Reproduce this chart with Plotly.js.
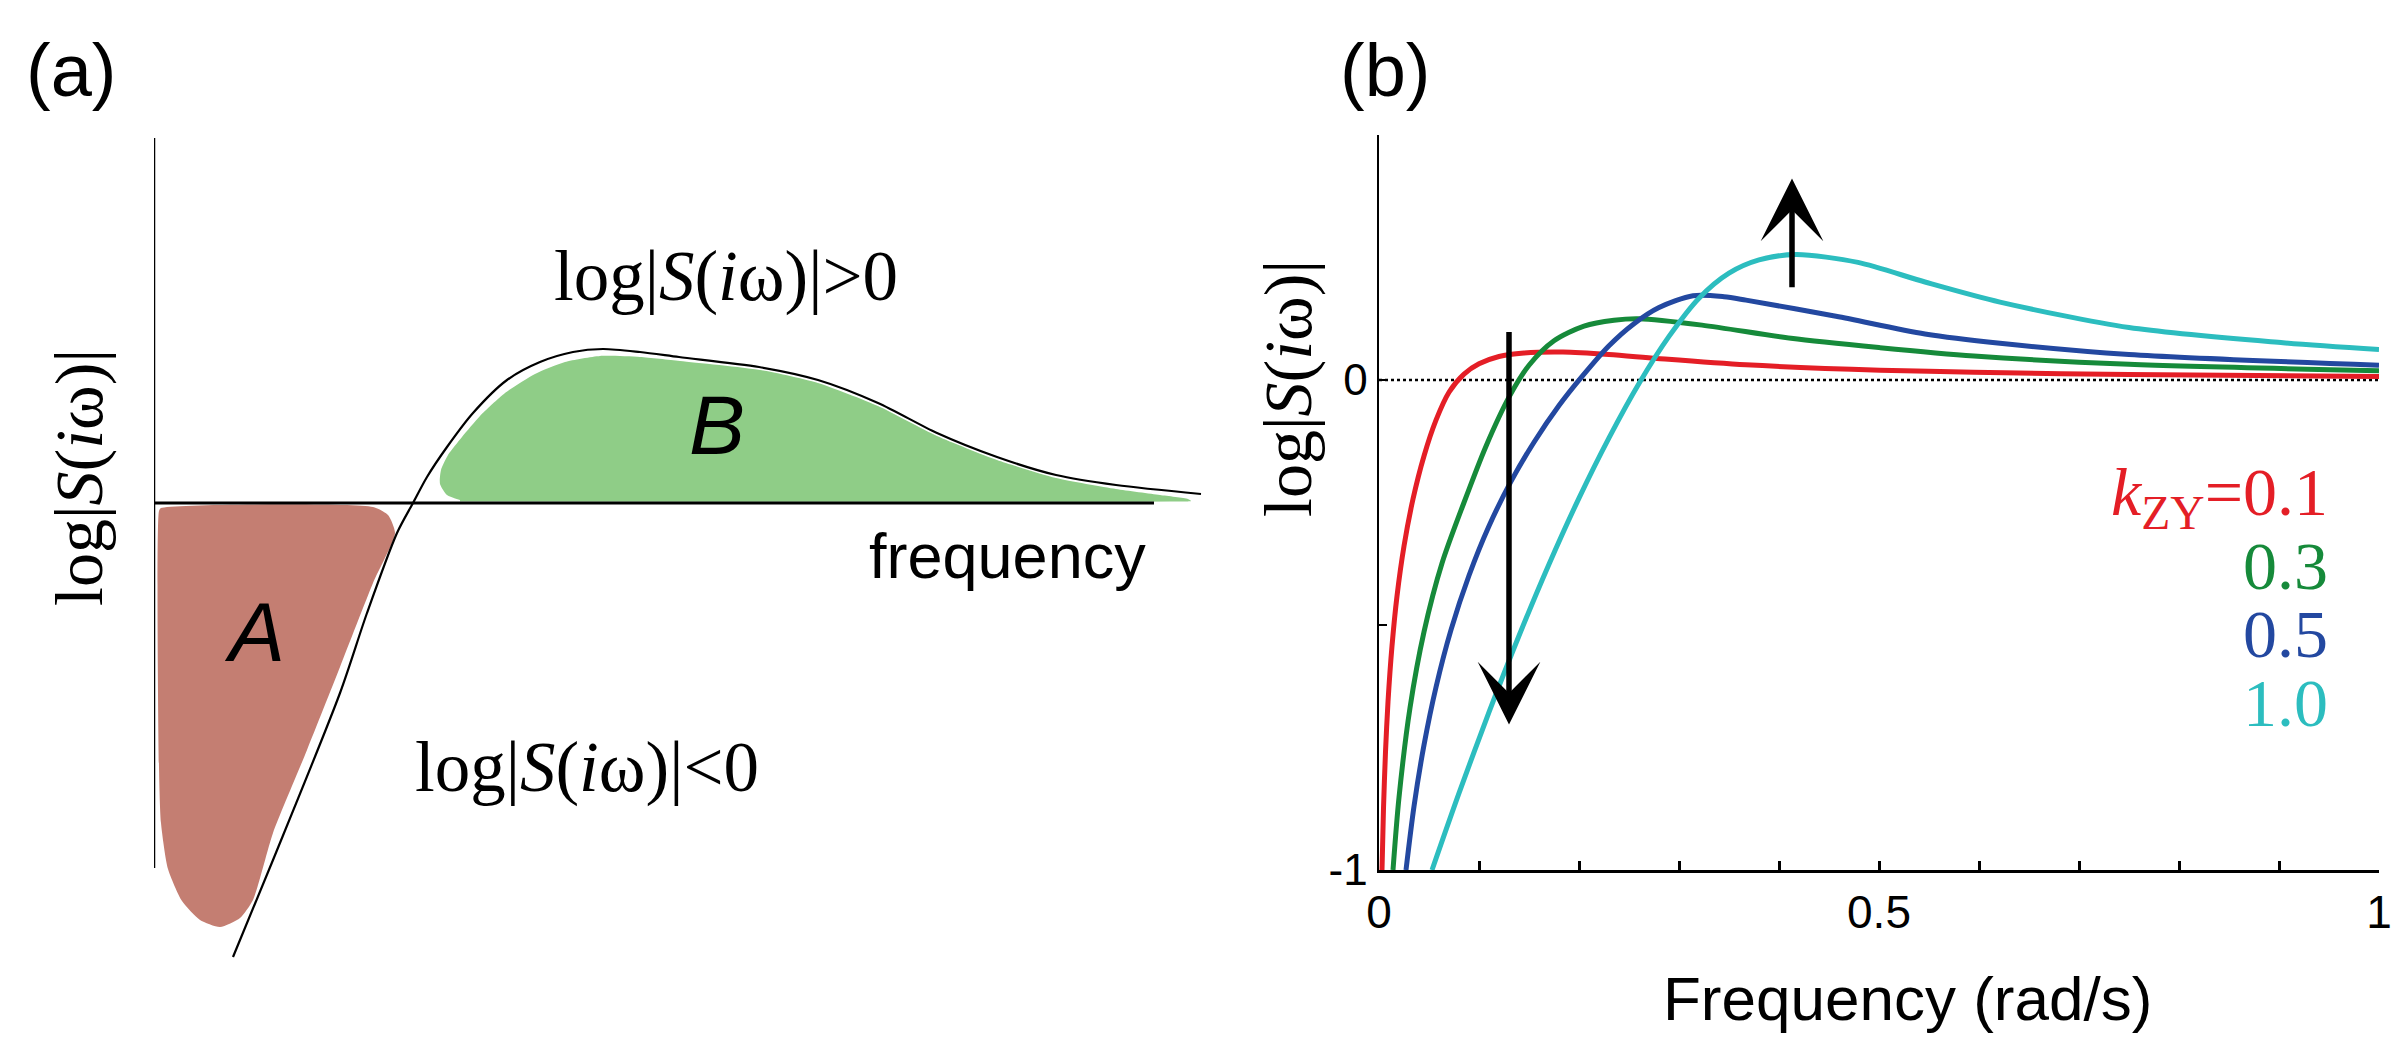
<!DOCTYPE html>
<html>
<head>
<meta charset="utf-8">
<script src="https://cdn.plot.ly/plotly-3.0.1.min.js"></script>
<style>html,body{margin:0;padding:0;background:#fff;}#chart{width:2408px;height:1054px;}</style>
</head>
<body>
<div id="chart"></div>
<script>
// ---------------- Panel (a): schematic (units: x 0..10 along frequency, y log|S|) ----------------
const schemX = [0.79, 1.19, 1.86, 2.13, 2.43, 2.59, 2.73, 2.93, 3.19, 3.53, 3.86, 4.19, 4.49, 4.86, 5.25, 6.05, 6.64, 7.24, 7.83, 8.43, 9.02, 9.62, 10.47];
const schemY = [-4.54, -3.57, -1.90, -1.10, -0.30, 0.00, 0.26, 0.56, 0.90, 1.23, 1.41, 1.51, 1.54, 1.51, 1.46, 1.36, 1.23, 1.00, 0.70, 0.46, 0.28, 0.18, 0.09];

const areaAX = [0.07, 2.19, 2.34, 2.41, 2.19, 1.86, 1.53, 1.19, 0.99, 0.86, 0.66, 0.46, 0.28, 0.14, 0.07, 0.05, 0.05, 0.07];
const areaAY = [-0.05, -0.04, -0.12, -0.30, -0.80, -1.64, -2.47, -3.30, -3.97, -4.15, -4.24, -4.17, -3.98, -3.66, -3.20, -2.64, -0.08, -0.05];

const areaBX = [3.06, 2.93, 2.86, 2.87, 2.94, 3.08, 3.26, 3.51, 3.81, 4.11, 4.46, 4.86, 5.26, 6.06, 6.64, 7.24, 7.83, 8.43, 9.02, 9.62, 10.06, 10.34, 10.37, 10.16, 3.06];
const areaBY = [0.03, 0.08, 0.19, 0.33, 0.48, 0.66, 0.87, 1.10, 1.29, 1.41, 1.47, 1.46, 1.42, 1.33, 1.20, 0.97, 0.67, 0.43, 0.25, 0.14, 0.08, 0.04, 0.02, 0.015, 0.015];

// extent of the schematic's axes (frequency axis along log|S| = 0, vertical axis at frequency = 0)
const axisAFreq = [0, 10];
const axisALog  = [-3.65, 3.65];

// ---------------- Panel (b): log|S(iω)| vs frequency for several k_ZY ----------------
const kLabels = ['0.1', '0.3', '0.5', '1.0'];
const seriesColors = ['#E41E26', '#168A3A', '#2348A0', '#2CBDBF'];

const freqK01 = [0.003, 0.0045, 0.0065, 0.009, 0.013, 0.018, 0.025, 0.034, 0.045, 0.057, 0.070, 0.085, 0.100, 0.120, 0.145, 0.184, 0.230, 0.278, 0.367, 0.501, 0.595, 0.750, 1.000];
const magK01  = [-1.00, -0.874, -0.759, -0.657, -0.543, -0.441, -0.339, -0.243, -0.155, -0.082, -0.025, 0.012, 0.033, 0.048, 0.055, 0.057, 0.052, 0.044, 0.031, 0.020, 0.016, 0.011, 0.007];

const freqK03 = [0.014, 0.020, 0.031, 0.045, 0.063, 0.085, 0.107, 0.130, 0.150, 0.175, 0.205, 0.235, 0.260, 0.323, 0.412, 0.501, 0.595, 0.750, 1.000];
const magK03  = [-1.00, -0.852, -0.669, -0.514, -0.374, -0.250, -0.135, -0.035, 0.030, 0.080, 0.110, 0.122, 0.125, 0.112, 0.085, 0.066, 0.049, 0.032, 0.019];

const freqK05 = [0.027, 0.035, 0.045, 0.057, 0.072, 0.090, 0.110, 0.132, 0.155, 0.180, 0.205, 0.230, 0.255, 0.280, 0.314, 0.345, 0.367, 0.457, 0.546, 0.621, 0.750, 1.000];
const magK05  = [-1.00, -0.870, -0.745, -0.627, -0.510, -0.399, -0.298, -0.207, -0.127, -0.052, 0.012, 0.070, 0.115, 0.148, 0.172, 0.170, 0.163, 0.130, 0.094, 0.075, 0.052, 0.030];

const freqK10 = [0.053, 0.080, 0.110, 0.140, 0.170, 0.200, 0.230, 0.260, 0.290, 0.320, 0.350, 0.380, 0.417, 0.479, 0.546, 0.621, 0.750, 0.904, 1.000];
const magK10  = [-1.00, -0.843, -0.678, -0.522, -0.376, -0.241, -0.118, -0.007, 0.089, 0.167, 0.218, 0.245, 0.256, 0.240, 0.200, 0.159, 0.107, 0.076, 0.062];

const zeroRefX = [0, 1];
const zeroRefY = [0, 0];

const xTickVals = [0, 0.1, 0.2, 0.3, 0.4, 0.5, 0.6, 0.7, 0.8, 0.9, 1.0];
const xTickText = ['0', '', '', '', '', '0.5', '', '', '', '', '1'];
const yTickVals = [-1, -0.5, 0, 0.5];
const yTickText = ['-1', '', '0', ''];

// arrows: x position, tail y, tip y
const arrowX    = [0.130, 0.413];
const arrowTail = [0.101, 0.186];
const arrowTip  = [-0.703, 0.411];

// ---------------- helpers for pixel placement ----------------
const W = 2408, H = 1054;
const px = v => v / W;
const py = v => 1 - v / H;

const SERIF = 'Liberation Serif, Times New Roman, serif';
const SANS = 'Liberation Sans, Arial, sans-serif';

const traces = [
  // panel (a)
  {x: areaAX, y: areaAY, xaxis: 'x2', yaxis: 'y2', mode: 'lines', fill: 'toself', fillcolor: '#C47E72',
   line: {width: 0, color: '#C47E72', shape: 'spline', smoothing: 0.6}, hoverinfo: 'skip', showlegend: false},
  {x: areaBX, y: areaBY, xaxis: 'x2', yaxis: 'y2', mode: 'lines', fill: 'toself', fillcolor: '#8FCD87',
   line: {width: 0, color: '#8FCD87', shape: 'spline', smoothing: 0.6}, hoverinfo: 'skip', showlegend: false},
  {x: schemX, y: schemY, xaxis: 'x2', yaxis: 'y2', mode: 'lines',
   line: {width: 2.2, color: '#000', shape: 'spline', smoothing: 0.8}, hoverinfo: 'skip', showlegend: false},
  // panel (b)
  {x: zeroRefX, y: zeroRefY, xaxis: 'x', yaxis: 'y', mode: 'lines',
   line: {width: 2.5, color: '#000', dash: 'dot'}, showlegend: false, hoverinfo: 'skip'},
];
const bX = [freqK01, freqK03, freqK05, freqK10];
const bY = [magK01, magK03, magK05, magK10];
for (let i = 0; i < 4; i++) {
  traces.push({x: bX[i], y: bY[i], xaxis: 'x', yaxis: 'y', mode: 'lines', name: 'k=' + kLabels[i],
    line: {width: 5, color: seriesColors[i], shape: 'spline', smoothing: 0.8}, showlegend: false});
}

const annotations = [
  // panel labels
  {text: '(a)', xref: 'paper', yref: 'paper', x: px(71), y: py(70), xanchor: 'center', yanchor: 'middle', showarrow: false, font: {family: SANS, size: 74, color: '#000'}},
  {text: '(b)', xref: 'paper', yref: 'paper', x: px(1385), y: py(70), xanchor: 'center', yanchor: 'middle', showarrow: false, font: {family: SANS, size: 74, color: '#000'}},
  // panel (a) texts
  {text: 'log|<i>S</i>(<i>i</i>ω)|', xref: 'paper', yref: 'paper', x: px(79), y: py(478), textangle: -90, xanchor: 'center', yanchor: 'middle', showarrow: false, font: {family: SERIF, size: 68, color: '#000'}},
  {text: 'log|<i>S</i>(<i>i</i>ω)|>0', xref: 'paper', yref: 'paper', x: px(726), y: py(276), xanchor: 'center', yanchor: 'middle', showarrow: false, font: {family: SERIF, size: 71, color: '#000'}},
  {text: 'log|<i>S</i>(<i>i</i>ω)|<0', xref: 'paper', yref: 'paper', x: px(587), y: py(767), xanchor: 'center', yanchor: 'middle', showarrow: false, font: {family: SERIF, size: 71, color: '#000'}},
  {text: '<i>A</i>', xref: 'paper', yref: 'paper', x: px(254), y: py(632), xanchor: 'center', yanchor: 'middle', showarrow: false, font: {family: SANS, size: 84, color: '#000'}},
  {text: '<i>B</i>', xref: 'paper', yref: 'paper', x: px(717), y: py(425), xanchor: 'center', yanchor: 'middle', showarrow: false, font: {family: SANS, size: 84, color: '#000'}},
  {text: 'frequency', xref: 'paper', yref: 'paper', x: px(1007), y: py(556), xanchor: 'center', yanchor: 'middle', showarrow: false, font: {family: SANS, size: 63, color: '#000'}},
  // panel (b) titles
  {text: 'log|<i>S</i>(<i>i</i>ω)|', xref: 'paper', yref: 'paper', x: px(1288), y: py(388), textangle: -90, xanchor: 'center', yanchor: 'middle', showarrow: false, font: {family: SERIF, size: 68, color: '#000'}},
  {text: 'Frequency (rad/s)', xref: 'paper', yref: 'paper', x: px(1907), y: py(998), xanchor: 'center', yanchor: 'middle', showarrow: false, font: {family: SANS, size: 62, color: '#000'}},
];
// legend-like labels
const legendBaselines = [520, 590, 658, 727];
for (let i = 0; i < 4; i++) {
  const t = i === 0 ? '<i>k</i><sub>ZY</sub>=' + kLabels[i] : kLabels[i];
  annotations.push({text: t, xref: 'paper', yref: 'paper', x: px(2330), y: py(legendBaselines[i] - 24),
    xanchor: 'right', yanchor: 'middle', showarrow: false, font: {family: SERIF, size: 68, color: seriesColors[i]}});
}
// arrows
for (let i = 0; i < arrowX.length; i++) {
  annotations.push({text: '', xref: 'x', yref: 'y', axref: 'x', ayref: 'y',
    x: arrowX[i], y: arrowTip[i], ax: arrowX[i], ay: arrowTail[i],
    showarrow: true, arrowhead: 3, arrowsize: 1.9, arrowwidth: 5.5, arrowcolor: '#000', standoff: 0});
}

// axis lines of the schematic, drawn in its own data coordinates, above the fills
const shapes = [
  {type: 'line', xref: 'x2', yref: 'y2', layer: 'above', x0: axisAFreq[0], x1: axisAFreq[0], y0: axisALog[0], y1: axisALog[1],
   line: {color: '#000', width: 2.5}},
  {type: 'line', xref: 'x2', yref: 'y2', layer: 'above', x0: axisAFreq[0], x1: axisAFreq[1], y0: 0, y1: 0,
   line: {color: '#000', width: 3}},
];

const layout = {
  width: W, height: H,
  margin: {l: 0, r: 0, t: 0, b: 0},
  paper_bgcolor: '#fff', plot_bgcolor: 'rgba(0,0,0,0)',
  showlegend: false,
  // panel (b)
  xaxis: {domain: [px(1379), px(2379)], range: [0, 1], anchor: 'y', showgrid: false, zeroline: false,
    showline: true, linecolor: '#000', linewidth: 3, ticks: 'inside', ticklen: 9, tickwidth: 3, tickcolor: '#000',
    tickmode: 'array', tickvals: xTickVals, ticktext: xTickText, tickfont: {family: SANS, size: 46, color: '#000'}, fixedrange: true},
  yaxis: {domain: [py(870), py(135)], range: [-1, 0.5], anchor: 'x', showgrid: false, zeroline: false,
    showline: true, linecolor: '#000', linewidth: 2.5, ticks: 'inside', ticklen: 8, tickwidth: 2.5, tickcolor: '#000',
    tickmode: 'array', tickvals: yTickVals, ticktext: yTickText, tickfont: {family: SANS, size: 44, color: '#000'}, fixedrange: true},
  // panel (a) axes (100 px per unit; log|S| = 0 at y = 503 px; frequency 0 at x = 154 px)
  xaxis2: {domain: [px(154), px(1220)], range: [0, 10.66], anchor: 'y2', visible: false, fixedrange: true},
  yaxis2: {domain: [py(980), py(138)], range: [-4.77, 3.65], anchor: 'x2', visible: false, fixedrange: true},
  shapes: shapes,
  annotations: annotations
};

Plotly.newPlot('chart', traces, layout, {displayModeBar: false, staticPlot: true});
</script>
</body>
</html>
